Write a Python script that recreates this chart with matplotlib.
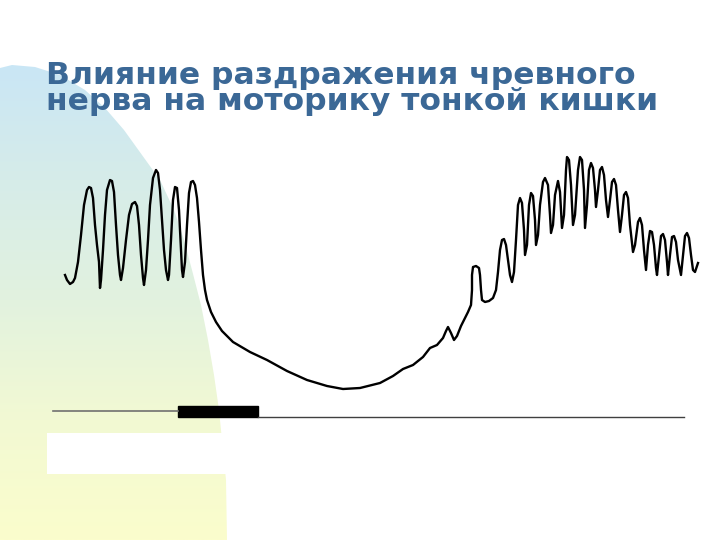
import matplotlib

matplotlib.use("Agg")

import matplotlib.pyplot as plt
import numpy as np
from matplotlib.colors import LinearSegmentedColormap
from matplotlib.patches import Polygon, Rectangle

# Motility trace as (time, amplitude above the marker line), arbitrary units
waves_before = [
    (0, 142), (2, 137), (5, 133), (8, 135), (10, 139), (13, 155), (16, 182), (19, 212),
    (22, 227), (24, 230), (26, 229), (28, 219), (30, 192), (32, 172), (34, 155), (35, 129),
    (36, 137), (38, 167), (40, 202), (42, 227), (45, 237), (47, 236), (49, 225), (51, 192),
    (53, 162), (55, 142), (56, 137), (58, 149), (61, 177), (64, 202), (67, 213), (70, 215),
    (72, 211), (74, 192), (76, 162), (78, 139), (79, 132), (81, 147), (83, 177), (85, 212),
    (88, 239), (91, 247), (93, 244), (95, 227), (97, 197), (99, 167), (101, 147), (103, 137),
    (104, 142), (106, 177), (108, 217), (110, 230), (112, 229), (114, 207), (116, 167), (117, 147),
    (118, 140), (120, 155), (122, 192), (124, 224), (126, 235), (128, 236), (130, 232), (132, 219),
    (134, 195), (136, 167),
]
inhibition = [
    (138, 142), (140, 127), (142, 117), (146, 105), (151, 95), (157, 86), (168, 75), (185, 65),
    (202, 57), (222, 46), (242, 37), (262, 31), (278, 28), (295, 29), (315, 34), (328, 41),
    (338, 48), (348, 52), (358, 60), (365, 69), (372, 72), (378, 79), (381, 86), (383, 90),
    (386, 84), (389, 77), (392, 81), (396, 91), (400, 99), (403, 105), (406, 112),
]
recovery = [
    (407, 127), (407, 142), (408, 150), (411, 151), (414, 149), (415, 142), (416, 127), (417, 117),
    (420, 115), (424, 116), (428, 119), (431, 127), (433, 145), (435, 167), (437, 177), (439, 178),
    (441, 172), (443, 157), (445, 142), (447, 135), (449, 145), (451, 177), (453, 212), (455, 219),
    (457, 214), (459, 187), (460, 162), (462, 172), (464, 212), (466, 224), (468, 221), (470, 197),
    (471, 172), (473, 182), (475, 212), (478, 235), (480, 239), (483, 232), (485, 202), (486, 184),
    (488, 192), (490, 222), (493, 236), (495, 225), (497, 189), (499, 202), (501, 247), (502, 260),
    (504, 257), (506, 232), (508, 192), (510, 202), (513, 247), (515, 260), (517, 257), (519, 227),
    (520, 189), (522, 212), (524, 247), (526, 254), (528, 249), (530, 227), (531, 210), (533, 227),
    (535, 247), (537, 250), (539, 242), (541, 217), (543, 200), (545, 217), (547, 235), (549, 238),
    (551, 232), (553, 207), (555, 185), (557, 202), (559, 222), (561, 225), (563, 219), (565, 192),
    (568, 165), (570, 172), (573, 195), (575, 199), (577, 192), (579, 167), (581, 147), (583, 172),
    (585, 186), (587, 185), (589, 172), (591, 149), (592, 142), (594, 162), (596, 181), (598, 183),
    (600, 177), (602, 155), (603, 142), (605, 162), (607, 180), (609, 181), (611, 175), (613, 157),
    (616, 142), (618, 162), (620, 181), (622, 184), (624, 179), (626, 162), (628, 147), (630, 145),
    (633, 154),
]

# Stimulation marker (same time units)
marker_start = -12
stim_start = 113
stim_end = 193
marker_end = 619
marker_pre_level = 6
stim_height = 11

title = "Влияние раздражения чревного\nнерва на моторику тонкой кишки"

fig = plt.figure(figsize=(7.2, 5.4), dpi=100)

# Decorative slide background (pixel coordinates)
bg = fig.add_axes([0, 0, 1, 1])
bg.set_xlim(0, 720)
bg.set_ylim(540, 0)
bg.axis("off")
shape = [
    (0, 68), (12, 65), (35, 67), (60, 75), (85, 90), (105, 108), (124, 130), (142, 155),
    (160, 180), (174, 210), (184, 240), (192, 270), (201, 305), (208, 340), (214, 375),
    (219, 410), (222, 440), (226, 480), (227, 540), (0, 540),
]
clip = Polygon(shape, closed=True, facecolor="none", edgecolor="none")
bg.add_patch(clip)
cmap = LinearSegmentedColormap.from_list(
    "slide", ["#c9e6f6", "#d6ece9", "#e2f2df", "#f2f9d3", "#fbfdcc"]
)
grad = np.linspace(0, 1, 256).reshape(-1, 1)
img = bg.imshow(grad, cmap=cmap, extent=(0, 230, 540, 60), aspect="auto", zorder=0)
img.set_clip_path(clip)
bg.add_patch(Rectangle((47, 433), 180, 41, facecolor="white", edgecolor="none", zorder=1))

fig.text(46 / 720, 1 - 61 / 540, title, fontsize=22.6, fontweight="bold",
         color="#3b6896", ha="left", va="top", linespacing=0.88)

# Trace axes: time 0 at x=65 px, amplitude 0 at y=417 px
ax = fig.add_axes([0, 0, 1, 1])
ax.set_xlim(-65, 655)
ax.set_ylim(-123, 417)
ax.axis("off")
ax.patch.set_alpha(0)

trace = waves_before + inhibition + recovery
trace_t = [p[0] for p in trace]
trace_amp = [p[1] for p in trace]
ax.plot(trace_t, trace_amp, color="black", linewidth=1.7, solid_joinstyle="round")

ax.plot([marker_start, stim_start], [marker_pre_level, marker_pre_level],
        color="#707070", linewidth=1.2)
ax.add_patch(Rectangle((stim_start, 0), stim_end - stim_start, stim_height,
                       facecolor="black", edgecolor="black"))
ax.plot([stim_end, marker_end], [0.5, 0.5], color="#404040", linewidth=1.0)

fig.savefig("out.png", dpi=100)
